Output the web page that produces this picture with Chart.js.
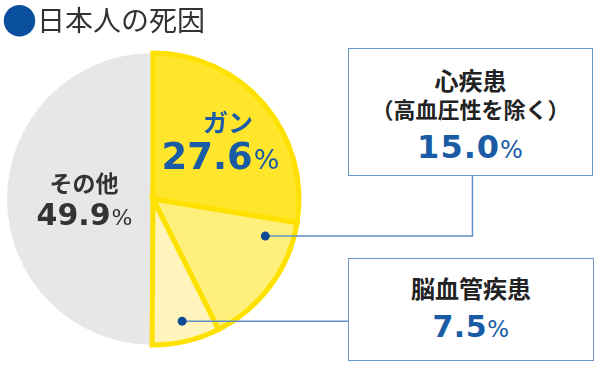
<!DOCTYPE html>
<html lang="ja">
<head>
<meta charset="utf-8">
<script src="https://cdn.jsdelivr.net/npm/chart.js@4.4.1/dist/chart.umd.min.js"></script>
<style>
html, body { margin: 0; padding: 0; background: #fff; }
#wrap { position: relative; width: 600px; height: 365px; overflow: hidden; font-family: "Noto Sans CJK JP", sans-serif; }
#myChart { position: absolute; left: 0; top: 0; }
.title { position: absolute; left: 37px; top: 3px; font-size: 28px; line-height: 32px; color: #333; white-space: nowrap; }
.title .dot { position: absolute; left: -35px; top: 0px; font-size: 35px; line-height: 32px; color: #0b4f9f; }
.box { position: absolute; box-sizing: border-box; border: 1.5px solid #6b97cc; background: #fff; color: #222; }
.box .ln { position: absolute; left: 0; right: 0; text-align: center; font-weight: bold; white-space: nowrap; }
.box .num { font-family: "DejaVu Sans", sans-serif; color: #1a5ba6; font-weight: bold; }
.box .num small { font-weight: normal; }
</style>
</head>
<body>
<div id="wrap">
  <canvas id="myChart" width="600" height="365"></canvas>
  <div class="title"><span class="dot">●</span>日本人の死因</div>
  <div class="box" id="box1" style="left:348px; top:48px; width:245px; height:128px;">
    <div class="ln" id="b1a" style="top:17px; font-size:24px; line-height:28px;"></div>
    <div class="ln" id="b1b" style="top:45px; font-size:22px; line-height:28px;"></div>
    <div class="ln num" id="b1c" style="top:82px; font-size:32px; line-height:32px; letter-spacing:1px;"></div>
  </div>
  <div class="box" id="box2" style="left:348px; top:258px; width:246px; height:103px;">
    <div class="ln" id="b2a" style="top:15px; font-size:24px; line-height:28px;"></div>
    <div class="ln num" id="b2c" style="top:52px; font-size:30px; line-height:32px; letter-spacing:0.5px;"></div>
  </div>
</div>
<script>
// 日本人の死因 (%), clockwise from 12 o'clock after rotation
var labels = ['その他', 'ガン', '心疾患', '脳血管疾患'];
var notes = ['', '', '（高血圧性を除く）', ''];
var values = [49.9, 27.6, 15.0, 7.5];

var fillColors = ['#e7e7e8', '#ffe62c', '#fff07c', '#fff5bc'];
var borderWidths = [0, 5, 5, 5];
var total = values.reduce(function (a, b) { return a + b; }, 0);

function pctText(v) { return v.toFixed(1); }

// callout boxes
document.getElementById('b1a').textContent = labels[2];
document.getElementById('b1b').textContent = notes[2];
document.getElementById('b1c').innerHTML = pctText(values[2]) + '<small style="font-size:24px">%</small>';
document.getElementById('b2a').textContent = labels[3];
document.getElementById('b2c').innerHTML = pctText(values[3]) + '<small style="font-size:23px">%</small>';

function drawPct(ctx, v, cx, cy, size, color) {
    var num = pctText(v), pSize = Math.round(size * 0.72);
    ctx.font = 'bold ' + size + 'px "DejaVu Sans"';
    var w1 = ctx.measureText(num).width;
    ctx.font = pSize + 'px "DejaVu Sans"';
    var w2 = ctx.measureText('%').width;
    var x = cx - (w1 + w2) / 2, base = cy + size * 0.3645;
    ctx.fillStyle = color;
    ctx.textAlign = 'left';
    ctx.textBaseline = 'alphabetic';
    ctx.font = 'bold ' + size + 'px "DejaVu Sans"';
    ctx.fillText(num, x, base);
    ctx.font = pSize + 'px "DejaVu Sans"';
    ctx.fillText('%', x + w1 + 1, base);
}

function pointIn(arc, f, k) {
    var a = arc.startAngle + f * (arc.endAngle - arc.startAngle);
    return { x: arc.x + Math.cos(a) * arc.outerRadius * k, y: arc.y + Math.sin(a) * arc.outerRadius * k };
}

const labelPlugin = {
    id: 'labelPlugin',
    afterDatasetsDraw: function (chart) {
        var ctx = chart.ctx;
        var arcs = chart.getDatasetMeta(0).data;
        var cx = arcs[0].x, cy = arcs[0].y;
        ctx.save();

        // inside labels
        ctx.textAlign = 'center';
        ctx.textBaseline = 'middle';
        ctx.fillStyle = '#1c5ca9';
        ctx.font = 'bold 25px "Noto Sans CJK JP"';
        ctx.fillText(labels[1], cx + 75, cy - 77);
        drawPct(ctx, values[1], cx + 67, cy - 43, 37, '#1a5ba6');

        ctx.textAlign = 'center';
        ctx.textBaseline = 'middle';
        ctx.fillStyle = '#333';
        ctx.font = 'bold 23px "Noto Sans CJK JP"';
        ctx.fillText(labels[0], cx - 69, cy - 16);
        drawPct(ctx, values[0], cx - 69, cy + 15, 30, '#333');

        // connectors
        var b1 = document.getElementById('box1'), b2 = document.getElementById('box2');
        var p1 = pointIn(arcs[2], 0.165, 0.81);
        var p2 = pointIn(arcs[3], 0.49, 0.86);
        var b1x = b1.offsetLeft + b1.offsetWidth * 0.508, b1y = b1.offsetTop + b1.offsetHeight;
        ctx.strokeStyle = '#5f8fc8';
        ctx.lineWidth = 1.5;
        ctx.beginPath();
        ctx.moveTo(p1.x, p1.y);
        ctx.lineTo(b1x, p1.y);
        ctx.lineTo(b1x, b1y);
        ctx.moveTo(p2.x, p2.y);
        ctx.lineTo(b2.offsetLeft, p2.y);
        ctx.stroke();

        ctx.fillStyle = '#0d4b95';
        [p1, p2].forEach(function (p) {
            ctx.beginPath();
            ctx.arc(p.x, p.y, 4.5, 0, Math.PI * 2);
            ctx.fill();
        });
        ctx.restore();
    }
};

const data = {
    labels: labels,
    datasets: [{
        data: values,
        backgroundColor: fillColors,
        borderColor: '#ffe100',
        borderWidth: borderWidths,
        borderJoinStyle: 'miter'
    }]
};

const config = {
    type: 'pie',
    data: data,
    options: {
        responsive: false,
        animation: false,
        events: [],
        rotation: -values[0] / total * 360,
        radius: 146,
        layout: { padding: { left: 0, right: 294, top: 50, bottom: 17 } },
        plugins: {
            legend: { display: false },
            tooltip: { enabled: false }
        }
    },
    plugins: [labelPlugin]
};

const myChart = new Chart(document.getElementById('myChart'), config);
</script>
</body>
</html>
